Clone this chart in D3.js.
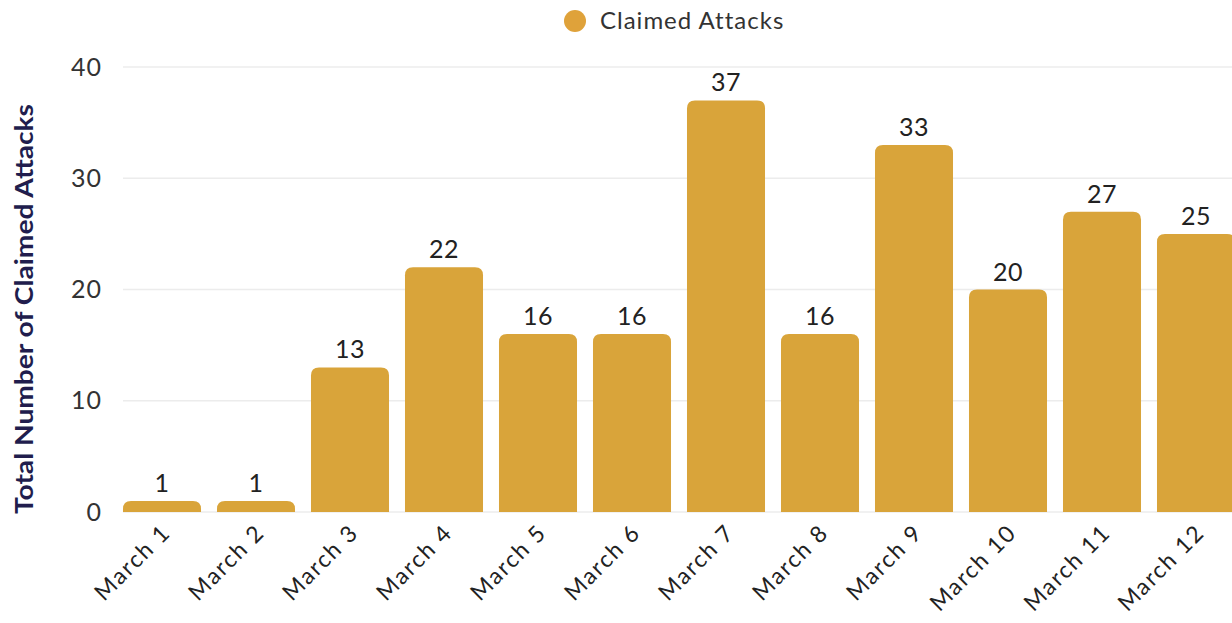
<!DOCTYPE html>
<html>
<head>
<meta charset="utf-8">
<script src="https://cdn.jsdelivr.net/npm/d3@7"></script>
<style>
  body { margin: 0; background: #fff; }
  svg { display: block; font-family: "Lato", "Open Sans", sans-serif; }
</style>
</head>
<body>
<div id="chart"></div>
<script>
// data
const days = ["March 1", "March 2", "March 3", "March 4", "March 5", "March 6",
              "March 7", "March 8", "March 9", "March 10", "March 11", "March 12"];
const attacks = [1, 1, 13, 22, 16, 16, 37, 16, 33, 20, 27, 25];
const yTicks = [0, 10, 20, 30, 40];
const seriesName = "Claimed Attacks";
const yTitle = "Total Number of Claimed Attacks";

const width = 1232, height = 623;
const barColor = "#D9A43A";

const svg = d3.select("#chart").append("svg")
  .attr("width", width)
  .attr("height", height);

const x = d3.scaleBand()
  .domain(days)
  .range([115, 115 + 12 * 94])
  .paddingInner(0.17)
  .paddingOuter(0.085);

const y = d3.scaleLinear()
  .domain([0, 40])
  .range([512, 67]);

// gridlines
svg.append("g")
  .selectAll("line")
  .data(yTicks)
  .join("line")
  .attr("x1", 123)
  .attr("x2", width)
  .attr("y1", d => y(d))
  .attr("y2", d => y(d))
  .attr("stroke", "#ececec")
  .attr("stroke-width", 1.5);

// y axis labels
const yAxis = d3.axisLeft(y).tickValues(yTicks).tickSize(0).tickPadding(0);
svg.append("g")
  .attr("transform", "translate(102,0)")
  .call(yAxis)
  .call(g => g.select(".domain").remove())
  .call(g => g.selectAll("text")
    .attr("font-size", 25)
    .attr("font-family", "Lato, sans-serif")
    .attr("letter-spacing", 1)
    .attr("fill", "#333"));

// y title
svg.append("text")
  .attr("transform", `translate(33, 309) rotate(-90)`)
  .attr("text-anchor", "middle")
  .attr("font-size", 24)
  .attr("font-weight", "bold")
  .attr("fill", "#211d4d")
  .attr("textLength", 410)
  .attr("lengthAdjust", "spacingAndGlyphs")
  .text(yTitle);

// bars with rounded tops
const r = 8;
function barPath(d, i) {
  const x0 = x(days[i]), w = x.bandwidth();
  const top = y(d), base = y(0);
  const rr = Math.min(r, (base - top));
  return `M${x0},${base}
    L${x0},${top + rr}
    Q${x0},${top} ${x0 + rr},${top}
    L${x0 + w - rr},${top}
    Q${x0 + w},${top} ${x0 + w},${top + rr}
    L${x0 + w},${base} Z`;
}

svg.append("g")
  .selectAll("path")
  .data(attacks)
  .join("path")
  .attr("d", barPath)
  .attr("fill", barColor);

// value labels
svg.append("g")
  .selectAll("text")
  .data(attacks)
  .join("text")
  .attr("x", (d, i) => x(days[i]) + x.bandwidth() / 2)
  .attr("y", d => y(d) - 9)
  .attr("text-anchor", "middle")
  .attr("font-size", 25)
  .attr("letter-spacing", 0.5)
  .attr("fill", "#222")
  .text(d => d);

// x axis labels
svg.append("g")
  .selectAll("text")
  .data(days)
  .join("text")
  .attr("transform", d => `translate(${x(d) + x.bandwidth() / 2 + 10}, 534) rotate(-45)`)
  .attr("text-anchor", "end")
  .attr("font-size", 23)
  .attr("letter-spacing", 1.8)
  .attr("fill", "#222")
  .text(d => d);

// legend
const legend = svg.append("g").attr("transform", "translate(575,21)");
legend.append("circle")
  .attr("r", 11)
  .attr("fill", "#DFA23A");
legend.append("text")
  .attr("x", 25)
  .attr("y", 8)
  .attr("font-size", 24)
  .attr("letter-spacing", 1)
  .attr("fill", "#333")
  .text(seriesName);
</script>
</body>
</html>
